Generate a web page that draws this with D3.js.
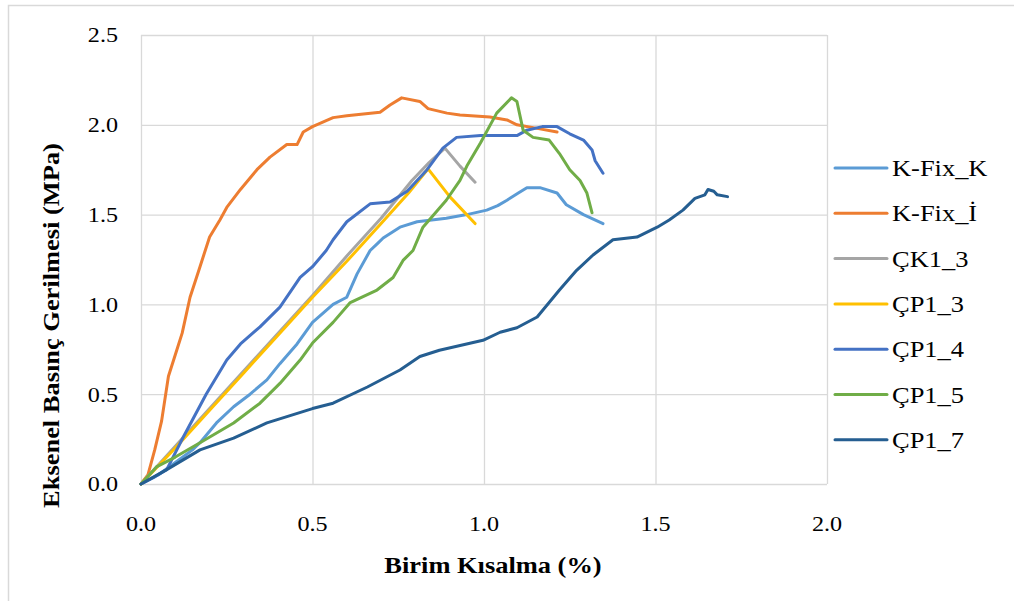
<!DOCTYPE html>
<html>
<head>
<meta charset="utf-8">
<script src="https://cdn.jsdelivr.net/npm/d3@7"></script>
<style>
  html, body { margin: 0; padding: 0; background: #fff; }
  svg text { font-family: "Liberation Serif", "Times New Roman", serif; fill: #000; }
</style>
</head>
<body>
<div id="chart"></div>
<script>
// seri adları ve renkleri
const seriesNames = ['K-Fix_K', 'K-Fix_İ', 'ÇK1_3', 'ÇP1_3', 'ÇP1_4', 'ÇP1_5', 'ÇP1_7']
const seriesColors = ['#5b9bd5', '#ed7d31', '#a5a5a5', '#ffc000', '#4472c4', '#70ad47', '#255e91']

// [birim kısalma %, gerilme MPa]
const kFixK = [[0,0],[0.05,0.05],[0.1,0.12],[0.15,0.19],[0.172,0.23],[0.22,0.34],[0.27,0.43],[0.318,0.50],[0.367,0.58],[0.405,0.67],[0.455,0.78],[0.50,0.90],[0.56,1.0],[0.60,1.04],[0.63,1.17],[0.668,1.30],[0.69,1.34],[0.706,1.37],[0.755,1.43],[0.805,1.46],[0.89,1.48],[0.95,1.50],[1.008,1.525],[1.04,1.55],[1.067,1.58],[1.10,1.62],[1.125,1.65],[1.163,1.65],[1.213,1.62],[1.24,1.555],[1.29,1.50],[1.347,1.45]]
const kFixI = [[0,0],[0.02,0.05],[0.04,0.19],[0.06,0.35],[0.08,0.6],[0.1,0.72],[0.12,0.84],[0.143,1.04],[0.172,1.21],[0.2,1.375],[0.23,1.47],[0.25,1.54],[0.29,1.64],[0.338,1.75],[0.376,1.82],[0.425,1.89],[0.455,1.89],[0.473,1.96],[0.50,1.99],[0.56,2.04],[0.60,2.05],[0.697,2.07],[0.726,2.11],[0.76,2.15],[0.813,2.13],[0.837,2.09],[0.892,2.065],[0.93,2.055],[1.017,2.043],[1.067,2.027],[1.096,2.0],[1.155,1.98],[1.213,1.96]]
const ck13 = [[0,0],[0.1,0.21],[0.3,0.63],[0.5,1.05],[0.6,1.27],[0.7,1.48],[0.79,1.69],[0.84,1.79],[0.886,1.87],[0.93,1.77],[0.974,1.68]]
const cp13 = [[0,0],[0.1,0.2],[0.2,0.41],[0.3,0.62],[0.4,0.83],[0.5,1.04],[0.6,1.24],[0.7,1.45],[0.78,1.62],[0.837,1.755],[0.9,1.6],[0.974,1.45]]
const cp14 = [[0,0],[0.04,0.04],[0.075,0.08],[0.123,0.26],[0.19,0.5],[0.25,0.69],[0.29,0.78],[0.347,0.875],[0.405,0.985],[0.464,1.15],[0.50,1.21],[0.54,1.30],[0.56,1.36],[0.60,1.46],[0.668,1.56],[0.726,1.57],[0.776,1.63],[0.834,1.75],[0.88,1.87],[0.92,1.93],[0.99,1.94],[1.096,1.94],[1.125,1.97],[1.17,1.99],[1.213,1.99],[1.25,1.95],[1.29,1.915],[1.315,1.86],[1.324,1.80],[1.347,1.73]]
const cp15 = [[0,0],[0.045,0.095],[0.10,0.15],[0.172,0.23],[0.27,0.34],[0.347,0.45],[0.405,0.56],[0.464,0.69],[0.50,0.785],[0.56,0.90],[0.61,1.01],[0.688,1.08],[0.735,1.15],[0.764,1.245],[0.793,1.30],[0.822,1.43],[0.89,1.58],[0.93,1.69],[0.95,1.77],[0.99,1.90],[1.037,2.065],[1.08,2.15],[1.096,2.13],[1.114,1.97],[1.143,1.93],[1.19,1.915],[1.22,1.84],[1.25,1.75],[1.28,1.69],[1.30,1.62],[1.315,1.51]]
const cp17 = [[0,0],[0.075,0.08],[0.172,0.19],[0.27,0.255],[0.367,0.34],[0.50,0.42],[0.56,0.45],[0.66,0.54],[0.755,0.635],[0.813,0.71],[0.87,0.745],[0.997,0.80],[1.047,0.845],[1.096,0.87],[1.155,0.93],[1.22,1.08],[1.27,1.19],[1.318,1.275],[1.376,1.36],[1.446,1.375],[1.505,1.43],[1.54,1.47],[1.58,1.525],[1.615,1.59],[1.644,1.61],[1.653,1.64],[1.67,1.63],[1.68,1.61],[1.71,1.60]]
const seriesData = [kFixK, kFixI, ck13, cp13, cp14, cp15, cp17]

const xTicks = [0, 0.5, 1.0, 1.5, 2.0]
const yTicks = [0, 0.5, 1.0, 1.5, 2.0, 2.5]

const width = 1014, height = 601
const margin = { top: 35, right: 187, bottom: 117, left: 141 }
const stretch = 1.15 // kaynak resim yatayda biraz gerilmiş
const serif = '"Liberation Serif", "Times New Roman", serif'

const svg = d3.select('#chart')
  .append('svg')
  .attr('width', width)
  .attr('height', height)

// çerçeve
svg.append('rect')
  .attr('x', 8.5).attr('y', 5.5)
  .attr('width', width).attr('height', height)
  .attr('fill', '#fff')
  .attr('stroke', '#d9d9d9')
  .attr('stroke-width', 1.5)

const x = d3.scaleLinear().domain([0, 2]).range([margin.left, width - margin.right])
const y = d3.scaleLinear().domain([0, 2.5]).range([height - margin.bottom, margin.top])
const fmt = d3.format('.1f')

// ızgara
svg.append('g')
  .selectAll('line')
  .data(xTicks)
  .join('line')
  .attr('x1', d => x(d) + 0.5).attr('x2', d => x(d) + 0.5)
  .attr('y1', y(0)).attr('y2', y(2.5))
  .attr('stroke', '#d9d9d9').attr('stroke-width', 1.3)
svg.append('g')
  .selectAll('line')
  .data(yTicks)
  .join('line')
  .attr('x1', x(0)).attr('x2', x(2))
  .attr('y1', d => y(d) + 0.5).attr('y2', d => y(d) + 0.5)
  .attr('stroke', '#d9d9d9').attr('stroke-width', 1.3)

// eksen etiketleri
svg.append('g')
  .selectAll('text')
  .data(xTicks)
  .join('text')
  .attr('transform', d => `translate(${x(d)},${y(0) + 40}) scale(${stretch},1)`)
  .attr('text-anchor', 'middle')
  .attr('dy', '0.35em')
  .style('font-family', serif)
  .style('font-size', '21px')
  .text(fmt)

svg.append('g')
  .selectAll('text')
  .data(yTicks)
  .join('text')
  .attr('transform', d => `translate(${x(0) - 23},${y(d)}) scale(${stretch},1)`)
  .attr('text-anchor', 'end')
  .attr('dy', '0.35em')
  .style('font-family', serif)
  .style('font-size', '21px')
  .text(fmt)

// seriler
const line = d3.line().x(d => x(d[0])).y(d => y(d[1]))
svg.append('g')
  .selectAll('path')
  .data(seriesData)
  .join('path')
  .attr('d', line)
  .attr('fill', 'none')
  .attr('stroke', (d, i) => seriesColors[i])
  .attr('stroke-width', 3)
  .attr('stroke-linejoin', 'round')
  .attr('stroke-linecap', 'round')

// başlıklar
svg.append('text')
  .attr('transform', `translate(${(x(0) + x(2)) / 2 + 9},573) scale(${stretch},1)`)
  .attr('text-anchor', 'middle')
  .style('font-family', serif)
  .style('font-size', '23px')
  .style('font-weight', 'bold')
  .text('Birim Kısalma (%)')

svg.append('text')
  .attr('transform', `translate(59,${(y(0) + y(2.5)) / 2 + 66}) rotate(-90) scale(${stretch},1)`)
  .attr('text-anchor', 'middle')
  .style('font-family', serif)
  .style('font-size', '23px')
  .style('font-weight', 'bold')
  .text('Eksenel Basınç Gerilmesi (MPa)')

// lejant
const legend = svg.append('g').attr('transform', 'translate(835,168)')
const item = legend.selectAll('g')
  .data(seriesNames)
  .join('g')
  .attr('transform', (d, i) => `translate(0,${i * 45.3})`)
item.append('line')
  .attr('x1', 0).attr('x2', 52)
  .attr('stroke', (d, i) => seriesColors[i])
  .attr('stroke-width', 3)
  .attr('stroke-linecap', 'round')
item.append('text')
  .attr('transform', `translate(57,0) scale(${stretch},1)`)
  .attr('dy', '0.35em')
  .style('font-family', serif)
  .style('font-size', '23px')
  .text(d => d)
</script>
</body>
</html>
